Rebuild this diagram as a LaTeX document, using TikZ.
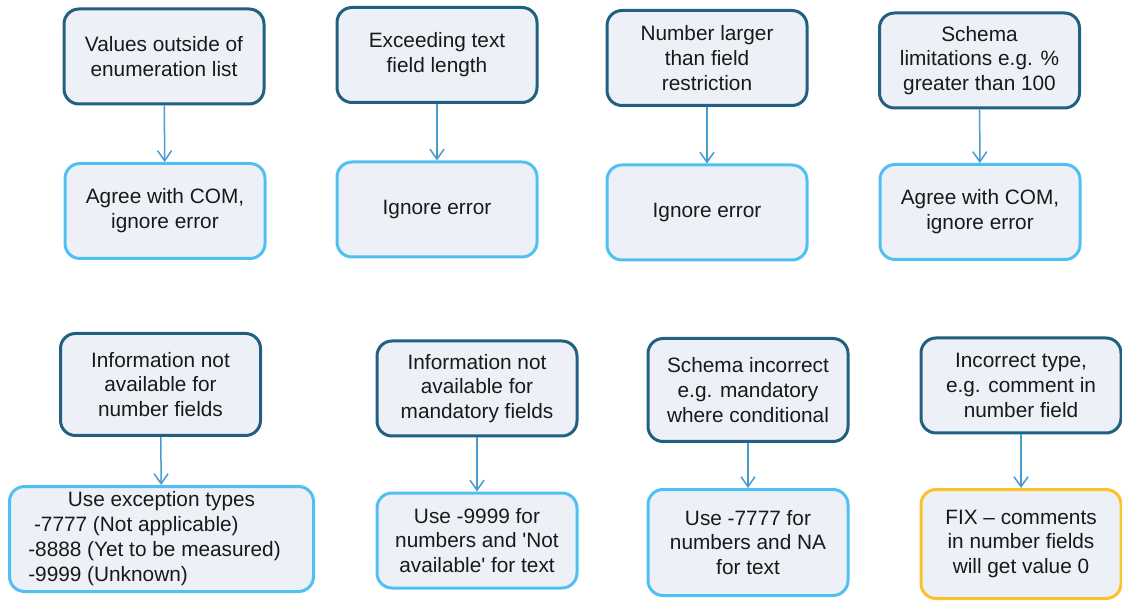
\documentclass[tikz,border=0pt]{standalone}
\usepackage{fontspec}
\setmainfont{Liberation Sans}
\usetikzlibrary{arrows.meta}

\definecolor{issueline}{RGB}{33,96,128}
\definecolor{actline}{RGB}{80,192,242}
\definecolor{fixline}{RGB}{250,196,40}
\definecolor{boxfill}{RGB}{237,241,247}
\definecolor{flowline}{RGB}{72,156,204}

\begin{document}
\begin{tikzpicture}[x=1pt,y=-1pt,
  box/.style={rectangle,rounded corners=15pt,line width=3pt,fill=boxfill,
    minimum width=200pt,minimum height=95pt,align=center,inner sep=2pt,
    font=\fontsize{20.8}{24.8}\selectfont,text=black!90},
  issue/.style={box,draw=issueline},
  act/.style={box,draw=actline},
  fixact/.style={box,draw=fixline},
  flow/.style={line width=1.5pt,draw=flowline,-{Straight Barb[length=10pt,width=14pt,line width=1.5pt]}}]

  \useasboundingbox (0,0) rectangle (1122,601);

  \node[issue] (i1) at (164,56.5) {Values outside of\\enumeration list};
  \node[issue] (i2) at (437,55) {Exceeding text\\field length};
  \node[issue] (i3) at (707,58) {Number larger\\than field\\restriction};
  \node[issue] (i4) at (979.5,60.5) {Schema\\limitations e.g. \%\\greater than 100};

  \node[act] (a1) at (165,211) {Agree with COM,\\ignore error};
  \node[act] (a2) at (437,209.5) {Ignore error};
  \node[act] (a3) at (707,212.5) {Ignore error};
  \node[act] (a4) at (980,212) {Agree with COM,\\ignore error};

  \node[issue,minimum height=102pt] (i5) at (160.5,384.5) {Information not\\available for\\number fields};
  \node[issue] (i6) at (477,388.5) {Information not\\available for\\mandatory fields};
  \node[issue,minimum height=103pt] (i7) at (748,390) {Schema incorrect\\e.g. mandatory\\where conditional};
  \node[issue] (i8) at (1021,385.5) {Incorrect type,\\e.g. comment in\\number field};

  \node[act,minimum width=304pt,minimum height=105pt] (a5) at (161.5,539) {%
    \begin{tabular}{@{}l@{}}
      \multicolumn{1}{@{}c@{}}{\hspace*{14pt}Use exception types}\\
      \ -7777 (Not applicable)\\
      -8888 (Yet to be measured)\\
      -9999 (Unknown)
    \end{tabular}\hspace*{14pt}};
  \node[act] (a6) at (477,540.5) {Use -9999 for\\numbers and \textquotesingle Not\\available\textquotesingle{} for text};
  \node[act,minimum height=106pt] (a7) at (748,542.5) {Use -7777 for\\numbers and NA\\for text};
  \node[fixact,minimum height=109pt] (a8) at (1021,544) {FIX – comments\\in number fields\\will get value 0};

  \draw[flow] (i1) -- (a1);
  \draw[flow] (i2) -- (a2);
  \draw[flow] (i3) -- (a3);
  \draw[flow] (i4) -- (a4);
  \draw[flow] (i5) -- (a5);
  \draw[flow] (i6) -- (a6);
  \draw[flow] (i7) -- (a7);
  \draw[flow] (i8) -- (a8);
\end{tikzpicture}
\end{document}
